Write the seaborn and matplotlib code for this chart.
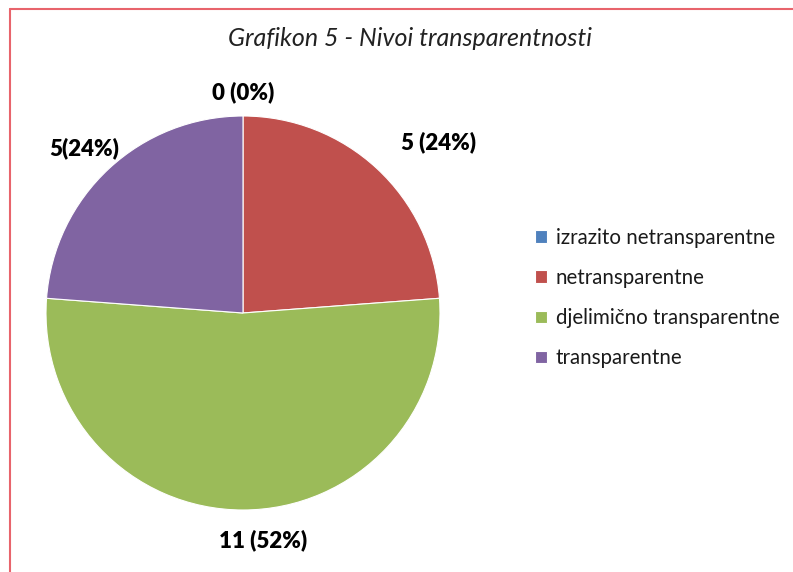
import matplotlib
matplotlib.use('Agg')
import matplotlib.pyplot as plt
import numpy as np
import seaborn as sns
from matplotlib.lines import Line2D

# data
categories = ['izrazito netransparentne', 'netransparentne',
              'djelimično transparentne', 'transparentne']
counts = [0, 5, 11, 5]
label_texts = ['0 (0%)', '5 (24%)', '11 (52%)', '5(24%)']
colors = ['#4F81BD', '#C0504D', '#9BBB59', '#8064A2']

sns.set_theme(style='white')
plt.rcParams['font.family'] = ['Lato', 'DejaVu Sans']

fig = plt.figure(figsize=(7.93, 5.72), dpi=100)
W, H = 793, 572

# pie centre (243, 313) px, radius 197 px
cx, cy, r = 243, 313, 197
ax = fig.add_axes([(cx - r) / W, (H - cy - r) / H, 2 * r / W, 2 * r / H])
wedges, _ = ax.pie(counts, colors=colors, startangle=90, counterclock=False,
                   wedgeprops=dict(linewidth=0.8, edgecolor='white'))
ax.set_xlim(-1, 1)
ax.set_ylim(-1, 1)
ax.set_aspect('equal')
ax.axis('off')

# data labels placed outside each slice
label_dist = [1.12, 1.32, 1.16, 1.16]
label_shift = [0, -6, 5, 1]
for w, txt, d, s in zip(wedges, label_texts, label_dist, label_shift):
    ang = np.deg2rad((w.theta1 + w.theta2) / 2 + s)
    ax.text(d * np.cos(ang), d * np.sin(ang), txt, ha='center', va='center',
            fontsize=16, fontweight='heavy', color='black', clip_on=False)

fig.text(410 / W, 1 - 38 / H, 'Grafikon 5 - Nivoi transparentnosti',
         ha='center', va='center', fontsize=18, fontstyle='italic', color='#222222')

fig.legend(wedges, categories, loc='center left', bbox_to_anchor=(525 / W, 1 - 298 / H),
           frameon=False, fontsize=14.8, handlelength=0.55, handleheight=0.55,
           handletextpad=0.45, labelspacing=0.98, borderpad=0, labelcolor='#1a1a1a')

# chart border (partly cropped in the original)
fig.add_artist(Line2D([10 / W, 1], [1 - 9 / H, 1 - 9 / H], color='#E8646C', lw=1.5))
fig.add_artist(Line2D([10 / W, 10 / W], [0, 1 - 9 / H], color='#E8646C', lw=1.5))

fig.savefig('out.png', dpi=100)
